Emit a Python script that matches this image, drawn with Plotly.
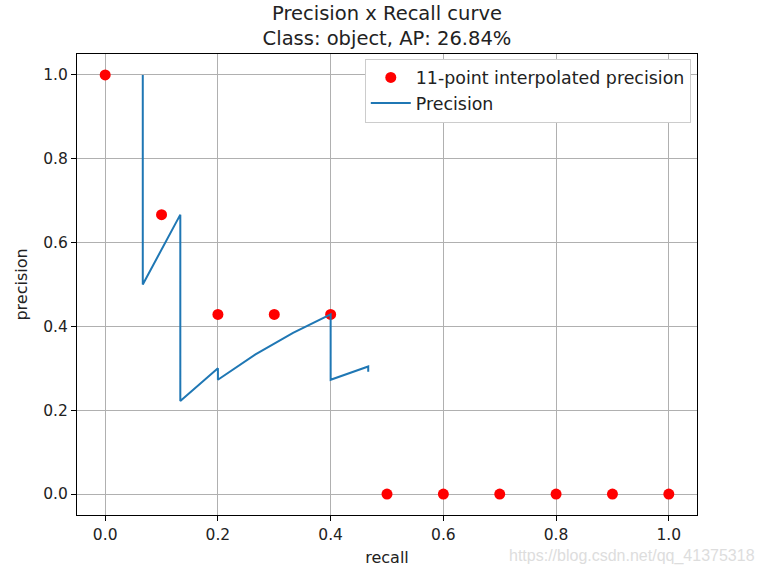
import plotly.graph_objects as go

# 11-point interpolated precision
rec_11 = [0.0, 0.1, 0.2, 0.3, 0.4, 0.5, 0.6, 0.7, 0.8, 0.9, 1.0]
prec_11 = [1.0, 0.6667, 0.4286, 0.4286, 0.4286, 0.0, 0.0, 0.0, 0.0, 0.0, 0.0]

# raw precision / recall per detection
recall = [0.0667, 0.0667, 0.1333, 0.1333, 0.1333, 0.1333, 0.1333, 0.1333,
          0.1333, 0.2, 0.2, 0.2667, 0.3333, 0.4, 0.4, 0.4, 0.4, 0.4, 0.4,
          0.4, 0.4, 0.4, 0.4667, 0.4667]
precision = [1.0, 0.5, 0.6667, 0.5, 0.4, 0.3333, 0.2857, 0.25, 0.2222,
             0.3, 0.2727, 0.3333, 0.3846, 0.4286, 0.4, 0.375, 0.3529,
             0.3333, 0.3158, 0.3, 0.2857, 0.2727, 0.3043, 0.2917]

ticks = [0.0, 0.2, 0.4, 0.6, 0.8, 1.0]
tick_text = ["0.0", "0.2", "0.4", "0.6", "0.8", "1.0"]

FONT = "DejaVu Sans"
W, H = 766, 575

fig = go.Figure()
fig.add_trace(
    go.Scatter(
        x=rec_11, y=prec_11, mode="markers", name="11-point interpolated precision",
        marker=dict(color="red", size=11),
    )
)
fig.add_trace(
    go.Scatter(
        x=recall, y=precision, mode="lines", name="Precision",
        line=dict(color="#1f77b4", width=2),
    )
)

axis = dict(
    range=[-0.05, 1.05], tickvals=ticks, ticktext=tick_text,
    showgrid=True, gridcolor="#b0b0b0", gridwidth=1, zeroline=False,
    showline=True, linecolor="black", linewidth=1, mirror=True,
    ticks="outside", ticklen=5, tickcolor="black", automargin=False,
    tickfont=dict(family=FONT, size=15.5, color="#222222"),
)

fig.update_layout(
    width=W, height=H,
    margin=dict(l=77, r=69, t=54, b=60),
    paper_bgcolor="white", plot_bgcolor="white",
    font=dict(family=FONT, color="#222222"),
    title=dict(
        text="Precision x Recall curve<br>Class: object, AP: 26.84%",
        x=387 / W, xanchor="center", yref="container", y=1 - 20 / H, yanchor="top",
        font=dict(family=FONT, size=19.5, color="#222222"),
    ),
    xaxis=dict(axis, title=dict(text="recall", font=dict(size=16), standoff=9)),
    yaxis=dict(axis, title=dict(text="precision", font=dict(size=16), standoff=11)),
    legend=dict(
        x=0.99, y=0.99, xanchor="right", yanchor="top",
        bgcolor="white", bordercolor="#cccccc", borderwidth=1,
        font=dict(family=FONT, size=17.4, color="#222222"),
        itemwidth=40, tracegroupgap=0,
    ),
    showlegend=True,
)

fig.add_annotation(
    text="https://blog.csdn.net/qq_41375318", xref="paper", yref="paper",
    x=(757 - 77) / 620, y=-(556 - 515) / 460, xanchor="right", yanchor="middle",
    showarrow=False,
    font=dict(family="Liberation Sans Narrow, Liberation Sans", size=16, color="#dddddd"),
)

# drop the default 8px body margin so the figure sits at the window origin
fig.write_html(
    "out.html",
    config={"displayModeBar": False},
    post_script="document.body.style.margin='0';",
)
